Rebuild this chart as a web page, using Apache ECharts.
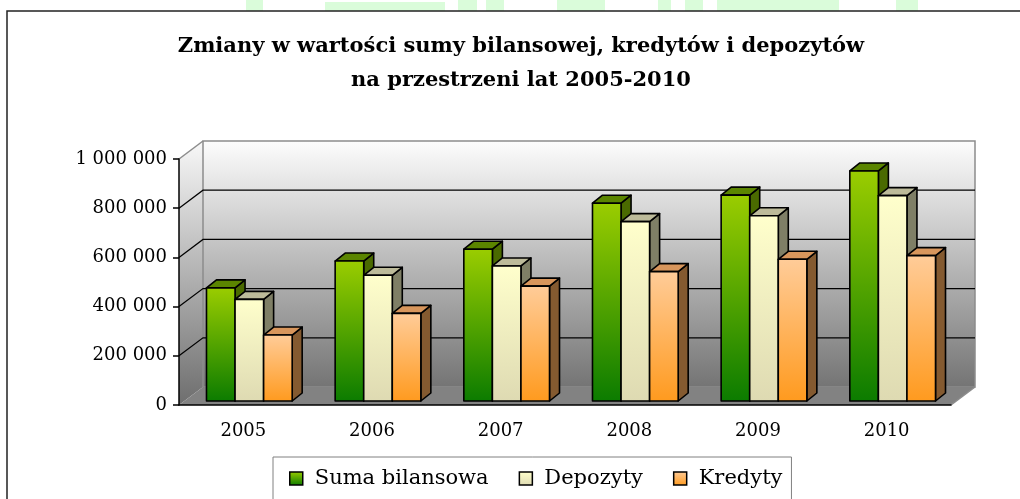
<!DOCTYPE html>
<html>
<head>
<meta charset="utf-8">
<script src="https://cdn.jsdelivr.net/npm/echarts@6/dist/echarts.min.js"></script>
<style>
  html, body { margin: 0; padding: 0; background: #fff; }
  #main { width: 1020px; height: 499px; }
</style>
</head>
<body>
<div id="main"></div>
<script>
// dane z wykresu
var years = ['2005', '2006', '2007', '2008', '2009', '2010'];
var sumaBilansowa = [460000, 569000, 617000, 804000, 837000, 935000];
var depozyty = [413000, 511000, 549000, 729000, 753000, 835000];
var kredyty = [268000, 356000, 467000, 526000, 576000, 591000];
var yTicks = [0, 200000, 400000, 600000, 800000, 1000000];
var titleLines = ['Zmiany w wartości sumy bilansowej, kredytów i depozytów', 'na przestrzeni lat 2005-2010'];

// glebokosc "3D" (przesuniecie tylnej sciany i slupkow)
var DX = 24, DY = -18;
var BAR_DX = 6, BAR_DY = -4;
var BAR_DEPTH_X = 10, BAR_DEPTH_Y = -8;

var grad = echarts.graphic.LinearGradient;
var styles = [
    { front: ['#9bcd00', '#0b7b00'], top: '#5b8500', side: '#4a6a00' },
    { front: ['#ffffcc', '#dedab2'], top: '#bdbb9a', side: '#7f7f66' },
    { front: ['#ffcc99', '#ff9a1e'], top: '#d8965c', side: '#845a30' }
];

function fmt(v) {
    return String(v).replace(/\B(?=(\d{3})+(?!\d))/g, ' ');
}

function renderWalls(params, api) {
    var cs = params.coordSys;
    var x0 = cs.x, x1 = cs.x + cs.width, y0 = cs.y, y1 = cs.y + cs.height;
    var wallFill = new grad(0, 0, 0, 1, [
        { offset: 0, color: '#fdfdfd' },
        { offset: 1, color: '#747474' }
    ]);
    var sideFill = new grad(0, 0, 0, 1, [
        { offset: 0, color: '#f8f8f8' },
        { offset: 1, color: '#6e6e6e' }
    ]);
    return {
        type: 'group',
        children: [
            {
                type: 'polygon',
                shape: { points: [[x0, y0], [x0 + DX, y0 + DY], [x0 + DX, y1 + DY], [x0, y1]] },
                style: { fill: sideFill, stroke: null }
            },
            {
                type: 'rect',
                shape: { x: x0 + DX, y: y0 + DY, width: cs.width, height: cs.height },
                style: { fill: wallFill, stroke: '#8c8c8c', lineWidth: 1.5 }
            },
            {
                type: 'polygon',
                shape: { points: [[x0, y1], [x1, y1], [x1 + DX, y1 + DY], [x0 + DX, y1 + DY]] },
                style: { fill: '#828282', stroke: null }
            },
            {
                type: 'polyline',
                shape: { points: [[x0, y0], [x0 + DX, y0 + DY]] },
                style: { stroke: '#8c8c8c', lineWidth: 1.5 }
            },
            {
                type: 'polyline',
                shape: { points: [[x1, y1], [x1 + DX, y1 + DY]] },
                style: { stroke: '#8c8c8c', lineWidth: 1.5 }
            }
        ]
    };
}

function renderGrid(params, api) {
    var v = api.value(1);
    var cs = params.coordSys;
    if (v <= 0 || v >= yTicks[yTicks.length - 1]) return;
    var y = api.coord([0, v])[1];
    var x0 = cs.x, x1 = cs.x + cs.width;
    return {
        type: 'polyline',
        shape: { points: [[x0, y], [x0 + DX, y + DY], [x1 + DX, y + DY]] },
        style: { stroke: '#000', lineWidth: 1.2, fill: null }
    };
}

function makeBarRender(k) {
    var st = styles[k];
    return function (params, api) {
        var bw = api.size([1, 0])[0];
        var barW = bw * 0.222;
        var c = api.coord([api.value(0), api.value(1)]);
        var base = api.coord([api.value(0), 0]);
        var left = c[0] + BAR_DX - 1.5 * barW + k * barW;
        var right = left + barW;
        var top = c[1] + BAR_DY;
        var bottom = base[1] + BAR_DY;
        var line = { stroke: '#000', lineWidth: 1.6, lineJoin: 'round' };
        return {
            type: 'group',
            children: [
                {
                    type: 'polygon',
                    shape: { points: [[right, top], [right + BAR_DEPTH_X, top + BAR_DEPTH_Y], [right + BAR_DEPTH_X, bottom + BAR_DEPTH_Y], [right, bottom]] },
                    style: Object.assign({ fill: st.side }, line)
                },
                {
                    type: 'polygon',
                    shape: { points: [[left, top], [left + BAR_DEPTH_X, top + BAR_DEPTH_Y], [right + BAR_DEPTH_X, top + BAR_DEPTH_Y], [right, top]] },
                    style: Object.assign({ fill: st.top }, line)
                },
                {
                    type: 'rect',
                    shape: { x: left, y: top, width: barW, height: bottom - top },
                    style: Object.assign({
                        fill: new grad(0, 0, 0, 1, [
                            { offset: 0, color: st.front[0] },
                            { offset: 1, color: st.front[1] }
                        ])
                    }, line)
                }
            ]
        };
    };
}

function legendStyle(k) {
    return {
        color: new grad(0, 0, 0, 1, [
            { offset: 0, color: styles[k].front[0] },
            { offset: 1, color: styles[k].front[1] }
        ]),
        borderColor: '#000',
        borderWidth: 1.5
    };
}

var names = ['Suma bilansowa', 'Depozyty', 'Kredyty'];
var values = [sumaBilansowa, depozyty, kredyty];

var series = [
    {
        type: 'custom',
        coordinateSystem: 'cartesian2d',
        renderItem: renderWalls,
        data: [[0, 0]],
        clip: false,
        silent: true,
        z: 1
    },
    {
        type: 'custom',
        coordinateSystem: 'cartesian2d',
        renderItem: renderGrid,
        data: yTicks.map(function (v) { return [0, v]; }),
        clip: false,
        silent: true,
        z: 2
    }
];
for (var k = 0; k < 3; k++) {
    series.push({
        name: names[k],
        type: 'custom',
        coordinateSystem: 'cartesian2d',
        renderItem: makeBarRender(k),
        itemStyle: legendStyle(k),
        data: values[k].map(function (v, i) { return [i, v]; }),
        clip: false,
        z: 3
    });
}

var titleFont = 'bold 21px "DejaVu Serif"';

var myChart = echarts.init(document.getElementById('main'));
myChart.setOption({
    animation: false,
    backgroundColor: '#fff',
    graphic: [
        // jasnozielony znak wodny u gory
        { type: 'rect', shape: { x: 246, y: 0, width: 17, height: 11 }, style: { fill: '#dafcda' }, silent: true },
        { type: 'rect', shape: { x: 325, y: 2, width: 120, height: 9 }, style: { fill: '#dafcda' }, silent: true },
        { type: 'rect', shape: { x: 458, y: 0, width: 19, height: 11 }, style: { fill: '#dafcda' }, silent: true },
        { type: 'rect', shape: { x: 486, y: 0, width: 18, height: 11 }, style: { fill: '#dafcda' }, silent: true },
        { type: 'rect', shape: { x: 557, y: 0, width: 48, height: 11 }, style: { fill: '#dafcda' }, silent: true },
        { type: 'rect', shape: { x: 658, y: 0, width: 13, height: 11 }, style: { fill: '#dafcda' }, silent: true },
        { type: 'rect', shape: { x: 685, y: 0, width: 18, height: 11 }, style: { fill: '#dafcda' }, silent: true },
        { type: 'rect', shape: { x: 717, y: 0, width: 122, height: 11 }, style: { fill: '#dafcda' }, silent: true },
        { type: 'rect', shape: { x: 896, y: 0, width: 22, height: 11 }, style: { fill: '#dafcda' }, silent: true },
        // ramka wykresu (lewa i gorna krawedz)
        { type: 'polyline', shape: { points: [[7, 499], [7, 11], [1020, 11]] }, style: { fill: null, stroke: '#222', lineWidth: 1.5 }, silent: true },
        // tytul
        { type: 'text', x: 521, y: 47, style: { text: titleLines[0], font: titleFont, fill: '#000', align: 'center', verticalAlign: 'middle' }, silent: true },
        { type: 'text', x: 521, y: 81, style: { text: titleLines[1], font: titleFont, fill: '#000', align: 'center', verticalAlign: 'middle' }, silent: true }
    ],
    legend: {
        left: 273,
        top: 457,
        padding: [11, 9, 11, 16],
        itemGap: 30,
        itemWidth: 13,
        itemHeight: 13,
        borderColor: '#808080',
        borderWidth: 1,
        textStyle: {
            fontFamily: 'DejaVu Serif',
            fontSize: 21,
            color: '#000',
            padding: [0, 0, 0, 7]
        },
        data: names.map(function (n, i) {
            return { name: n, icon: 'rect', itemStyle: legendStyle(i) };
        })
    },
    grid: {
        left: 179,
        right: 69,
        top: 159,
        bottom: 94
    },
    xAxis: {
        type: 'category',
        data: years,
        axisLine: { lineStyle: { color: '#000', width: 1.5 } },
        axisTick: { length: 6, lineStyle: { color: '#888', width: 1.5 } },
        axisLabel: {
            margin: 17,
            fontFamily: 'DejaVu Serif',
            fontSize: 18,
            color: '#000'
        },
        splitLine: { show: false },
        z: 10
    },
    yAxis: {
        type: 'value',
        min: 0,
        max: 1000000,
        interval: 200000,
        axisLine: { show: true, lineStyle: { color: '#000', width: 1.5 } },
        axisTick: { show: true, length: 6, lineStyle: { color: '#000', width: 1.5 } },
        axisLabel: {
            margin: 12,
            fontFamily: 'DejaVu Serif',
            fontSize: 18,
            color: '#000',
            formatter: fmt
        },
        splitLine: { show: false },
        z: 10
    },
    series: series
});
</script>
</body>
</html>
